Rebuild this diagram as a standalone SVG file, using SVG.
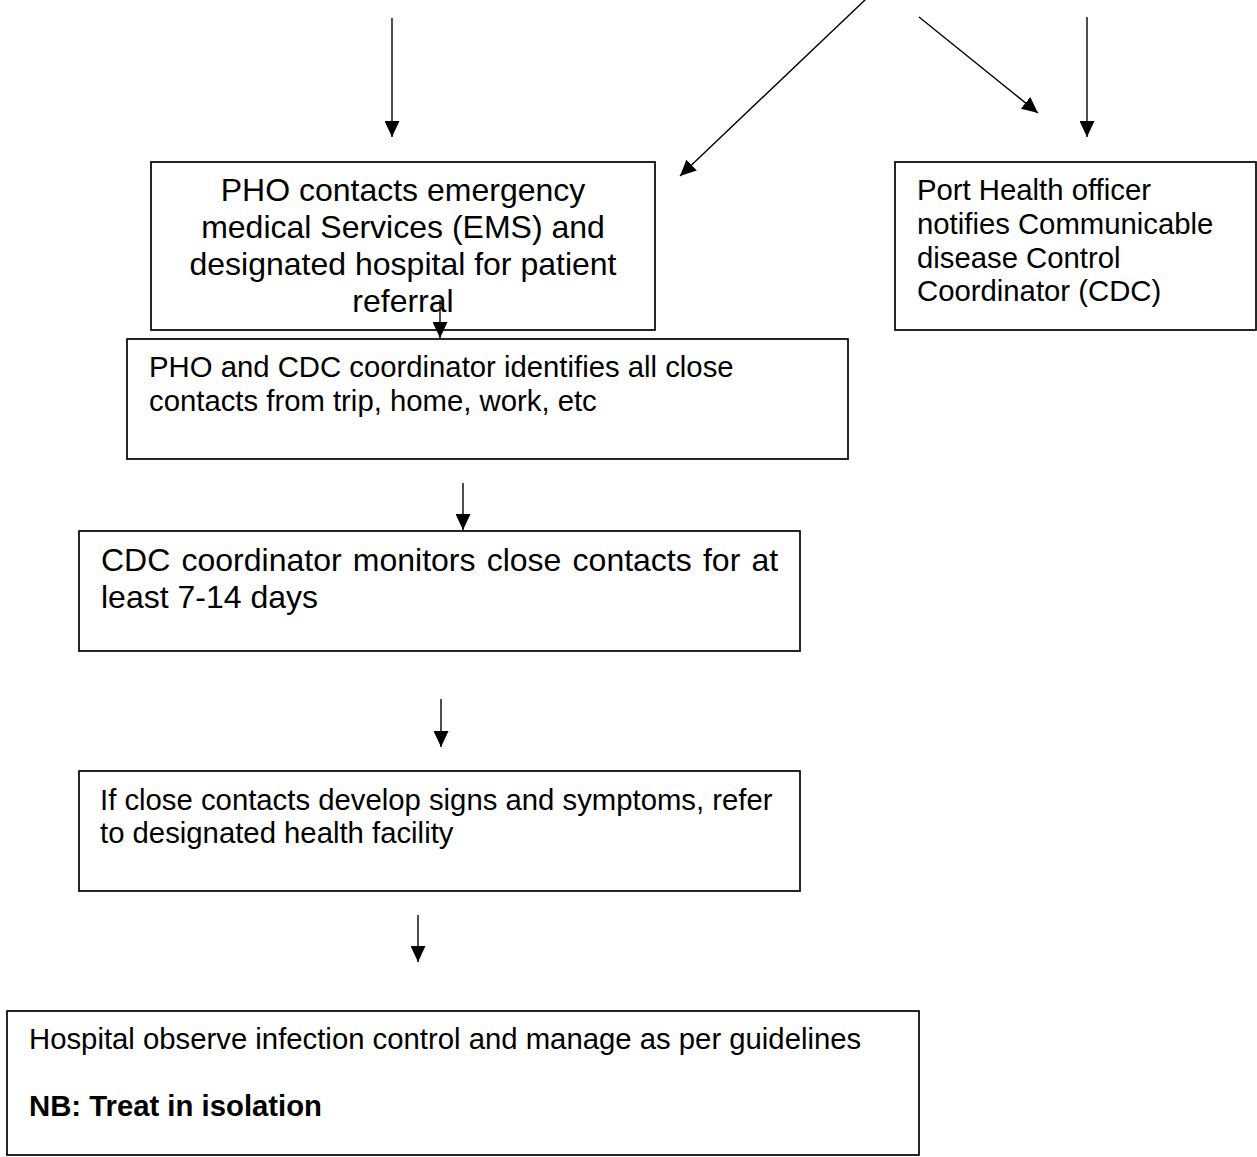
<svg xmlns="http://www.w3.org/2000/svg" width="1257" height="1157" viewBox="0 0 1257 1157">
<style>
.box{fill:#fff;stroke:#000;stroke-width:1.7}
.t{font-family:"Liberation Sans",Arial,sans-serif;fill:#000}
.s29{font-size:29.3px}
.s32{font-size:32px}
.b{font-weight:bold}
.c{stroke:#000;stroke-width:1.4;fill:none}
</style>
<defs>
<marker id="ah2" markerWidth="16" markerHeight="15" viewBox="0 0 16 15" refX="16" refY="7.5" orient="auto" markerUnits="userSpaceOnUse">
<path d="M0,0 L16,7.5 L0,15 z" fill="#000"/>
</marker>
</defs>
<rect width="1257" height="1157" fill="#fff"/>
<g id="n1">
<rect class="box" x="151" y="162" width="504" height="168"/>
<text class="t s32" text-anchor="middle"><tspan x="403" y="201">PHO contacts emergency</tspan><tspan x="403" y="238">medical Services (EMS) and</tspan><tspan x="403" y="275">designated hospital for patient</tspan><tspan x="403" y="312">referral</tspan></text>
</g>
<g id="n2">
<rect class="box" x="895" y="162" width="361" height="168"/>
<text class="t s29"><tspan x="917" y="200">Port Health officer</tspan><tspan x="917" y="234">notifies Communicable</tspan><tspan x="917" y="268">disease Control</tspan><tspan x="917" y="301">Coordinator (CDC)</tspan></text>
</g>
<g id="n3">
<rect class="box" x="127" y="339" width="721" height="120"/>
<text class="t s29"><tspan x="149" y="377">PHO and CDC coordinator identifies all close</tspan><tspan x="149" y="411">contacts from trip, home, work, etc</tspan></text>
</g>
<g id="n4">
<rect class="box" x="79" y="531" width="721" height="120"/>
<text class="t s32"><tspan x="101" y="571" word-spacing="2.3">CDC coordinator monitors close contacts for at</tspan><tspan x="101" y="608">least 7-14 days</tspan></text>
</g>
<g id="n5">
<rect class="box" x="79" y="771" width="721" height="120"/>
<text class="t s29"><tspan x="100" y="810">If close contacts develop signs and symptoms, refer</tspan><tspan x="100" y="843">to designated health facility</tspan></text>
</g>
<g id="n6">
<rect class="box" x="7" y="1011" width="912" height="144"/>
<text class="t s29"><tspan x="29" y="1049">Hospital observe infection control and manage as per guidelines</tspan></text>
<text class="t s29 b" x="29" y="1116">NB: Treat in isolation</text>
</g>
<g id="connectors">
<line class="c" x1="392" y1="18" x2="392" y2="137" marker-end="url(#ah2)"/>
<line class="c" x1="866" y1="-1" x2="680" y2="176" marker-end="url(#ah2)"/>
<line class="c" x1="919" y1="17" x2="1038" y2="113" marker-end="url(#ah2)"/>
<line class="c" x1="1087" y1="17" x2="1087" y2="137" marker-end="url(#ah2)"/>
<line class="c" x1="440" y1="300" x2="440" y2="338" marker-end="url(#ah2)"/>
<line class="c" x1="463" y1="483" x2="463" y2="530" marker-end="url(#ah2)"/>
<line class="c" x1="441" y1="699" x2="441" y2="747" marker-end="url(#ah2)"/>
<line class="c" x1="418" y1="915" x2="418" y2="962" marker-end="url(#ah2)"/>
</g>
</svg>
